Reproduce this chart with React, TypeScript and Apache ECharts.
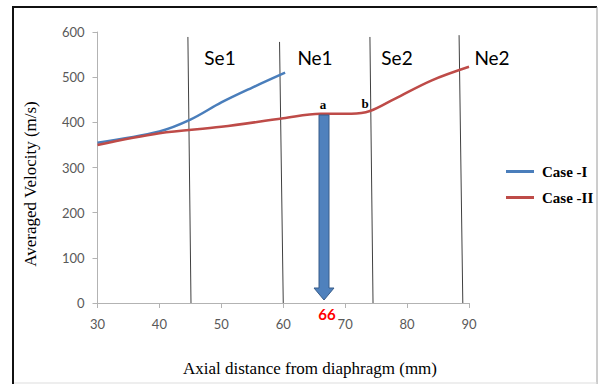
import React, { useEffect, useRef } from "react";
import * as echarts from "echarts";

// Case -I (blue) averaged velocity vs axial distance
const caseIX = [30, 40, 45, 50, 55, 60.3];
const caseIY = [355, 380, 406, 444, 477, 510];
// Case -II (red)
const caseIIX = [30, 40, 50, 60, 66, 71, 74, 78, 84, 90];
const caseIIY = [350, 376, 390, 409, 419, 419, 425, 452, 493, 523];
// region divider lines (slightly slanted in the original)
const dividerTopX = [44.6, 59.4, 74.0, 88.4];
const dividerBottomX = [45.1, 60.0, 74.5, 89.0];
const dividerTopY = [589, 578, 589, 593];
const regionLabels = ["Se1", "Ne1", "Se2", "Ne2"];
const seriesNames = ["Case -I", "Case -II"];
const markedDistance = "66";
const xMin = 30, xMax = 90, xStep = 10;
const yMin = 0, yMax = 600, yStep = 100;

const SANS = "Lato, 'Noto Sans', sans-serif";
const SERIF = "'Liberation Serif', 'DejaVu Serif', serif";

export default function App() {
  const ref = useRef<HTMLDivElement>(null);
  useEffect(() => {
    if (!ref.current) return;
    const chart = echarts.init(ref.current, undefined, { renderer: "svg" });

    const dividerSeries = dividerTopX.map((tx, i) => ({
      type: "line",
      name: "div" + i,
      data: [
        [tx, dividerTopY[i]],
        [dividerBottomX[i], 0],
      ],
      symbol: "none",
      lineStyle: { color: "#404040", width: 1 },
      silent: true,
      z: 1,
    }));

    const labelX = [220, 315, 397, 492];

    chart.setOption({
      animation: false,
      backgroundColor: "#ffffff",
      grid: { left: 97.5, right: 129, top: 32, bottom: 81, containLabel: false },
      xAxis: {
        type: "value",
        min: xMin,
        max: xMax,
        interval: xStep,
        axisLine: { show: true, lineStyle: { color: "#b3b3b3", width: 1 } },
        axisTick: { show: true, length: 5, lineStyle: { color: "#b3b3b3" } },
        axisLabel: { color: "#595959", fontFamily: SANS, fontSize: 13, margin: 14 },
        splitLine: { show: false },
      },
      yAxis: {
        type: "value",
        min: yMin,
        max: yMax,
        interval: yStep,
        axisLine: { show: true, lineStyle: { color: "#b3b3b3", width: 1 } },
        axisTick: { show: true, length: 5, lineStyle: { color: "#b3b3b3" } },
        axisLabel: { color: "#595959", fontFamily: SANS, fontSize: 13, margin: 13 },
        splitLine: { show: false },
      },
      legend: {
        data: seriesNames,
        orient: "vertical",
        left: 501,
        top: 159,
        icon: "rect",
        itemWidth: 28,
        itemHeight: 3,
        itemGap: 11,
        textStyle: { fontFamily: SERIF, fontWeight: "bold", fontSize: 15, color: "#000", padding: [0, 0, 0, 3] },
      },
      series: [
        ...dividerSeries,
        {
          type: "line",
          name: seriesNames[0],
          data: caseIX.map((x, i) => [x, caseIY[i]]),
          smooth: 0.35,
          symbol: "none",
          itemStyle: { color: "#4A7EBB" },
          lineStyle: { color: "#4A7EBB", width: 2.5 },
          z: 3,
        },
        {
          type: "line",
          name: seriesNames[1],
          data: caseIIX.map((x, i) => [x, caseIIY[i]]),
          smooth: 0.35,
          symbol: "none",
          itemStyle: { color: "#BE4B48" },
          lineStyle: { color: "#BE4B48", width: 2.5 },
          z: 3,
        },
      ],
      graphic: [
        { type: "line", shape: { x1: 12, y1: 7, x2: 597, y2: 7 }, style: { stroke: "#111", lineWidth: 2 } },
        { type: "line", shape: { x1: 13, y1: 6, x2: 13, y2: 384 }, style: { stroke: "#111", lineWidth: 2 } },
        { type: "line", shape: { x1: 597, y1: 7, x2: 597, y2: 384 }, style: { stroke: "#9a9a9a", lineWidth: 1 } },
        { type: "line", shape: { x1: 14, y1: 383, x2: 597, y2: 383 }, style: { stroke: "#dddddd", lineWidth: 1 } },
        ...regionLabels.map((t, i) => ({
          type: "text",
          x: labelX[i],
          y: 57,
          style: { text: t, fontFamily: SANS, fontSize: 19, fill: "#000", textAlign: "center", textVerticalAlign: "middle" },
          z: 10,
        })),
        {
          type: "text",
          x: 323,
          y: 104,
          style: { text: "a", fontFamily: SERIF, fontWeight: "bold", fontSize: 13, fill: "#000", textAlign: "center", textVerticalAlign: "middle" },
          z: 10,
        },
        {
          type: "text",
          x: 365,
          y: 103,
          style: { text: "b", fontFamily: SERIF, fontWeight: "bold", fontSize: 13, fill: "#000", textAlign: "center", textVerticalAlign: "middle" },
          z: 10,
        },
        {
          type: "polygon",
          shape: {
            points: [
              [319, 115],
              [329, 115],
              [329, 288],
              [334, 288],
              [324, 300],
              [314, 288],
              [319, 288],
            ],
          },
          style: { fill: "#4F81BD", stroke: "#385D8A", lineWidth: 1 },
          z: 9,
        },
        {
          type: "text",
          x: 327,
          y: 314,
          style: { text: markedDistance, fontFamily: SANS, fontWeight: "bold", fontSize: 15, fill: "#FF0000", textAlign: "center", textVerticalAlign: "middle" },
          z: 10,
        },
        {
          type: "text",
          x: 310,
          y: 368,
          style: { text: "Axial distance from diaphragm (mm)", fontFamily: SERIF, fontSize: 17, fill: "#000", textAlign: "center", textVerticalAlign: "middle" },
          z: 10,
        },
        {
          type: "text",
          x: 30,
          y: 184,
          rotation: Math.PI / 2,
          style: { text: "Averaged Velocity (m/s)", fontFamily: SERIF, fontSize: 17, fill: "#000", textAlign: "center", textVerticalAlign: "middle" },
          z: 10,
        },
      ],
    });
    return () => chart.dispose();
  }, []);
  return <div ref={ref} style={{ position: "fixed", left: 0, top: 0, width: 598, height: 384 }} />;
}
